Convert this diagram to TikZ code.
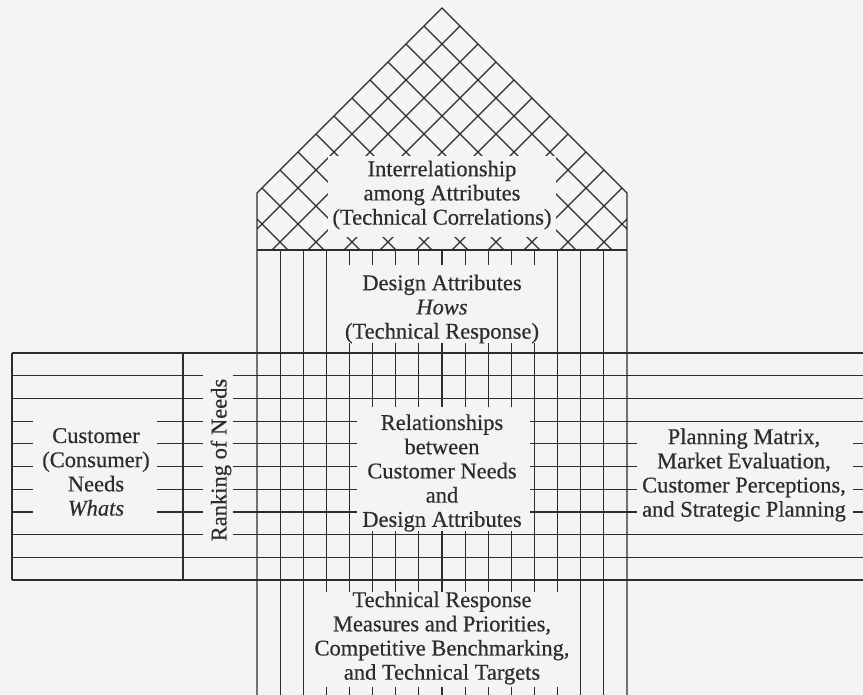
\documentclass[tikz,border=0pt]{standalone}
\usepackage{fontspec}
\setmainfont{Liberation Serif}[FakeBold=0.5]
\definecolor{bg}{RGB}{244,244,244}
\definecolor{ink}{RGB}{45,45,45}
\begin{document}
\begin{tikzpicture}[x=1pt,y=-1pt,
  grid/.style={draw=ink,line width=1.2pt},
  lbl/.style={text=ink,align=center,font=\fontsize{22.5}{24.2}\selectfont,inner sep=0pt}]
\fill[bg] (0,0) rectangle (863,695);
\useasboundingbox (0,0) rectangle (863,695);
% roof lattice
\begin{scope}
\clip (257,193) -- (442,8) -- (627,193) -- (627,250) -- (257,250) -- cycle;
\foreach \k in {1,...,11} {
  \draw[grid] (200,{-234+36*\k}) -- (700,{266+36*\k});
  \draw[grid] (200,{250+36*\k}) -- (700,{-250+36*\k});
}
\end{scope}
\fill[bg] (328,156) rectangle (556,237);
% house outline
\draw[grid,line join=miter] (257,695) -- (257,193) -- (442,8) -- (627,193) -- (627,695);
\draw[grid] (257,250) -- (627,250);
% full verticals
\foreach \k in {1,2,14,15}
  \draw[grid] ({257+23.125*\k},250) -- ({257+23.125*\k},695);
\foreach \k in {3,13} {
  \draw[grid] ({257+23.125*\k},250) -- ({257+23.125*\k},592);
  \draw[grid] ({257+23.125*\k},687) -- ({257+23.125*\k},695);
}
\foreach \k in {4,12} {
  \draw[grid] ({257+23.125*\k},250) -- ({257+23.125*\k},265);
  \draw[grid] ({257+23.125*\k},343) -- ({257+23.125*\k},592);
  \draw[grid] ({257+23.125*\k},687) -- ({257+23.125*\k},695);
}
% broken verticals
\foreach \k in {5,...,11} {
  \draw[grid] ({257+23.125*\k},250) -- ({257+23.125*\k},265);
  \draw[grid] ({257+23.125*\k},343) -- ({257+23.125*\k},407);
  \draw[grid] ({257+23.125*\k},531) -- ({257+23.125*\k},592);
  \draw[grid] ({257+23.125*\k},687) -- ({257+23.125*\k},695);
}
% left box
\draw[grid] (12,353) -- (12,580);
\draw[grid] (183,353) -- (183,580);
% rows
\foreach \i in {0,9,10}
  \draw[grid] (12,{353+22.7*\i}) -- (863,{353+22.7*\i});
\foreach \i in {1,2,8} {
  \draw[grid] (12,{353+22.7*\i}) -- (203,{353+22.7*\i});
  \draw[grid] (233,{353+22.7*\i}) -- (863,{353+22.7*\i});
}
\foreach \i in {3} {
  \draw[grid] (12,{353+22.7*\i}) -- (33,{353+22.7*\i});
  \draw[grid] (157,{353+22.7*\i}) -- (203,{353+22.7*\i});
  \draw[grid] (233,{353+22.7*\i}) -- (357,{353+22.7*\i});
  \draw[grid] (530,{353+22.7*\i}) -- (863,{353+22.7*\i});
}
\foreach \i in {4,...,7} {
  \draw[grid] (12,{353+22.7*\i}) -- (33,{353+22.7*\i});
  \draw[grid] (157,{353+22.7*\i}) -- (203,{353+22.7*\i});
  \draw[grid] (233,{353+22.7*\i}) -- (357,{353+22.7*\i});
  \draw[grid] (530,{353+22.7*\i}) -- (637,{353+22.7*\i});
  \draw[grid] (853,{353+22.7*\i}) -- (863,{353+22.7*\i});
}
% texts
\node[lbl] (roof) at (442,195) {Interrelationship\\among Attributes\\(Technical Correlations)};
\node[lbl] (design) at (442,309) {Design Attributes\\\textit{Hows}\\(Technical Response)};
\node[lbl] (rel) at (442,473) {Relationships\\between\\Customer Needs\\and\\Design Attributes};
\node[lbl] (tech) at (442,638) {Technical Response\\Measures and Priorities,\\Competitive Benchmarking,\\and Technical Targets};
\node[lbl] (whats) at (96,472) {Customer\\(Consumer)\\Needs\\\textit{Whats}};
\node[lbl] (plan) at (744,475) {Planning Matrix,\\Market Evaluation,\\Customer Perceptions,\\and Strategic Planning};
\node[lbl,rotate=90] (rank) at (221,460) {Ranking of Needs};
\end{tikzpicture}
\end{document}
